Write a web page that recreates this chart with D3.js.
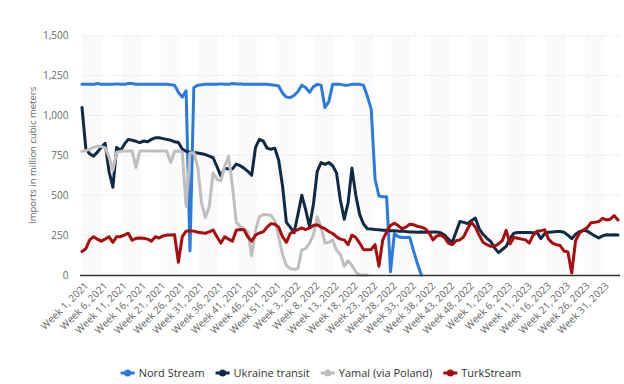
<!DOCTYPE html>
<html>
<head>
<meta charset="utf-8">
<script src="https://cdn.jsdelivr.net/npm/d3@7"></script>
<style>
  body { margin: 0; background: #fff; }
  svg text { font-family: "Open Sans", "DejaVu Sans", sans-serif; }
</style>
</head>
<body>
<div id="chart"></div>
<script>
// Weeks per year shown on the axis (2021 is counted with 53 weeks)
var yearWeeks = [[2021, 53], [2022, 52], [2023, 35]];

var tickLabels = [
    'Week 1, 2021', 'Week 6, 2021', 'Week 11, 2021', 'Week 16, 2021', 'Week 21, 2021',
    'Week 26, 2021', 'Week 31, 2021', 'Week 36, 2021', 'Week 41, 2021', 'Week 46, 2021',
    'Week 51, 2021', 'Week 3, 2022', 'Week 8, 2022', 'Week 13, 2022', 'Week 18, 2022',
    'Week 23, 2022', 'Week 28, 2022', 'Week 33, 2022', 'Week 38, 2022', 'Week 43, 2022',
    'Week 48, 2022', 'Week 1, 2023', 'Week 6, 2023', 'Week 11, 2023', 'Week 16, 2023',
    'Week 21, 2023', 'Week 26, 2023', 'Week 31, 2023'];

var yTicks = [0, 250, 500, 750, 1000, 1250, 1500];

var seriesNames = ['Nord Stream', 'Ukraine transit', 'Yamal (via Poland)', 'TurkStream'];

var nordStream = [
    1195, 1195, 1195, 1195, 1200, 1195, 1195, 1195, 1195, 1198,
    1195, 1195, 1200, 1200, 1195, 1195, 1195, 1195, 1195, 1195,
    1195, 1195, 1195, 1192, 1190, 1145, 1115, 1155, 150, 1175,
    1190, 1192, 1195, 1195, 1195, 1195, 1198, 1195, 1195, 1200,
    1198, 1198, 1195, 1195, 1195, 1195, 1195, 1195, 1195, 1192,
    1190, 1185, 1140, 1115, 1112, 1125, 1150, 1190, 1175, 1145,
    1180, 1195, 1190, 1050, 1085, 1195, 1195, 1195, 1190, 1190,
    1195, 1195, 1195, 1190, 1120, 1040, 600, 495, 490, 490,
    20, 260, 240, 235, 235, 235, 150, 70, 0];

var ukraineTransit = [
    1050, 790, 760, 745, 770, 800, 825, 650, 550, 800,
    780, 820, 850, 845, 838, 830, 840, 835, 850, 860,
    860, 855, 850, 845, 835, 830, 790, 775, 770, 770,
    765, 760, 755, 745, 735, 680, 620, 670, 665, 665,
    695, 685, 670, 650, 625, 800, 850, 840, 795, 788,
    795, 720, 560, 330, 300, 265, 380, 500, 410, 305,
    440, 650, 705, 693, 705, 685, 640, 470, 350, 450,
    670, 500, 380, 320, 290, 288, 285, 283, 280, 280,
    278, 278, 275, 275, 272, 270, 270, 268, 270, 268,
    268, 270, 270, 265, 250, 225, 205, 270, 335, 330,
    322, 340, 357, 290, 255, 230, 210, 170, 140, 160,
    180, 230, 262, 267, 267, 267, 267, 265, 267, 228,
    260, 268, 270, 272, 273, 268, 250, 228, 255, 272,
    280, 275, 260, 245, 232, 245, 252, 250, 252, 250];

var yamal = [
    775, 780, 788, 800, 808, 805, 798, 740, 655, 770,
    775, 778, 778, 778, 675, 775, 777, 777, 777, 777,
    777, 777, 776, 705, 775, 777, 770, 430, 765, 768,
    680, 450, 360, 430, 640, 600, 590, 680, 745, 560,
    330, 305, 290, 270, 120, 280, 365, 378, 378, 375,
    340, 240, 130, 60, 40, 36, 40, 157, 165, 200,
    250, 365, 300, 200, 205, 220, 155, 130, 55, 90,
    60, 20, 0, 0, 0];

var turkStream = [
    147, 165, 220, 240, 225, 212, 225, 240, 205, 240,
    240, 250, 262, 218, 230, 232, 230, 225, 212, 240,
    232, 245, 250, 250, 252, 80, 240, 275, 278, 275,
    268, 265, 262, 270, 282, 240, 200, 240, 225, 212,
    280, 285, 283, 240, 212, 250, 263, 270, 300, 322,
    318, 300, 240, 205, 260, 275, 285, 295, 285, 295,
    310, 315, 300, 290, 273, 260, 240, 225, 220, 190,
    250, 235, 200, 160, 158, 160, 190, 55, 220, 270,
    310, 325, 310, 290, 300, 318, 315, 305, 300, 290,
    265, 220, 245, 250, 235, 200, 190, 215, 220, 240,
    290, 330, 300, 250, 205, 190, 180, 180, 195, 215,
    280, 195, 235, 230, 225, 220, 200, 250, 275, 278,
    283, 225, 200, 190, 185, 150, 145, 12, 215, 262,
    282, 295, 328, 330, 335, 355, 345, 350, 372, 345];

var colors = ['#2a7bdb', '#0e2a45', '#bfbfbf', '#a70d0d'];

// Build the list of week categories
var categories = [];
yearWeeks.forEach(function(yw) {
    for (var w = 1; w <= yw[1]; w++) {
        categories.push('Week ' + w + ', ' + yw[0]);
    }
});

var width = 624,
    height = 384,
    plotLeft = 82,
    plotRight = 620,
    plotTop = 35.7,
    plotBottom = 275;

var svg = d3.select('#chart').append('svg')
    .attr('width', width)
    .attr('height', height);

var x = d3.scalePoint()
    .domain(categories)
    .range([plotLeft, 618]);

var y = d3.scaleLinear()
    .domain([0, 1500])
    .range([plotBottom, plotTop]);

var step = x.step();

// Alternating column bands, one every ten weeks
var bandStarts = categories.filter(function(c, i) { return i % 10 === 0; });
svg.append('g').selectAll('rect').data(bandStarts).enter()
    .append('rect')
    .attr('x', function(d) { return Math.max(plotLeft, x(d) + step * 0.3); })
    .attr('y', plotTop)
    .attr('width', function(d) {
        return Math.min(plotRight, x(d) + step * 5.3) - Math.max(plotLeft, x(d) + step * 0.3);
    })
    .attr('height', plotBottom - plotTop)
    .attr('fill', '#fafafa');

// Horizontal grid lines
svg.append('g').selectAll('line').data(yTicks.slice(1)).enter()
    .append('line')
    .attr('x1', plotLeft)
    .attr('x2', plotRight)
    .attr('y1', function(d) { return y(d); })
    .attr('y2', function(d) { return y(d); })
    .attr('stroke', '#d6d6d6')
    .attr('stroke-dasharray', '1,2');

// Y axis
var yAxis = svg.append('g')
    .attr('transform', 'translate(' + plotLeft + ',0)')
    .call(d3.axisLeft(y).tickValues(yTicks).tickSize(0).tickPadding(13.5).tickFormat(d3.format(',')));
yAxis.select('.domain').remove();
yAxis.selectAll('text')
    .attr('fill', '#666')
    .style('font-size', '10px');

svg.append('text')
    .attr('transform', 'translate(33,' + ((plotTop + plotBottom) / 2) + ') rotate(-90)')
    .attr('text-anchor', 'middle')
    .attr('dy', '0.35em')
    .attr('fill', '#666')
    .style('font-size', '9.5px')
    .text('Imports in million cubic meters');

// X axis labels
var xAxis = svg.append('g')
    .attr('transform', 'translate(0,' + plotBottom + ')')
    .call(d3.axisBottom(x).tickValues(tickLabels).tickSize(0));
xAxis.select('.domain').remove();
xAxis.selectAll('text')
    .attr('fill', '#666')
    .style('font-size', '10px')
    .attr('text-anchor', 'end')
    .attr('x', 0)
    .attr('y', 0)
    .attr('dy', '0.35em')
    .attr('transform', 'translate(4,9) rotate(-45)');

// Series lines
var allSeries = [nordStream, ukraineTransit, yamal, turkStream];

var line = d3.line()
    .x(function(d, i) { return x(categories[i]); })
    .y(function(d) { return y(d); });

svg.append('g').selectAll('path').data(allSeries).enter()
    .append('path')
    .attr('d', line)
    .attr('fill', 'none')
    .attr('stroke', function(d, i) { return colors[i]; })
    .attr('stroke-width', 3)
    .attr('stroke-linejoin', 'round')
    .attr('stroke-linecap', 'round');

// Axis base line
svg.append('line')
    .attr('x1', 80)
    .attr('x2', plotRight)
    .attr('y1', plotBottom + 0.5)
    .attr('y2', plotBottom + 0.5)
    .attr('stroke', '#333')
    .attr('stroke-width', 1.5);

// Legend
var legend = svg.append('g');
var cursor = 0;
seriesNames.forEach(function(name, i) {
    var item = legend.append('g').attr('transform', 'translate(' + cursor + ',0)');
    item.append('line')
        .attr('x1', 0).attr('x2', 14)
        .attr('y1', 0).attr('y2', 0)
        .attr('stroke', colors[i])
        .attr('stroke-width', 3);
    item.append('circle')
        .attr('cx', 7).attr('cy', 0).attr('r', 3.5)
        .attr('fill', colors[i]);
    var t = item.append('text')
        .attr('x', 18)
        .attr('dy', '0.35em')
        .attr('fill', '#333')
        .style('font-size', '11px')
        .text(name);
    cursor += 18 + t.node().getComputedTextLength() + 11;
});
cursor -= 11;
legend.attr('transform', 'translate(' + (321 - cursor / 2) + ',373)');
</script>
</body>
</html>
